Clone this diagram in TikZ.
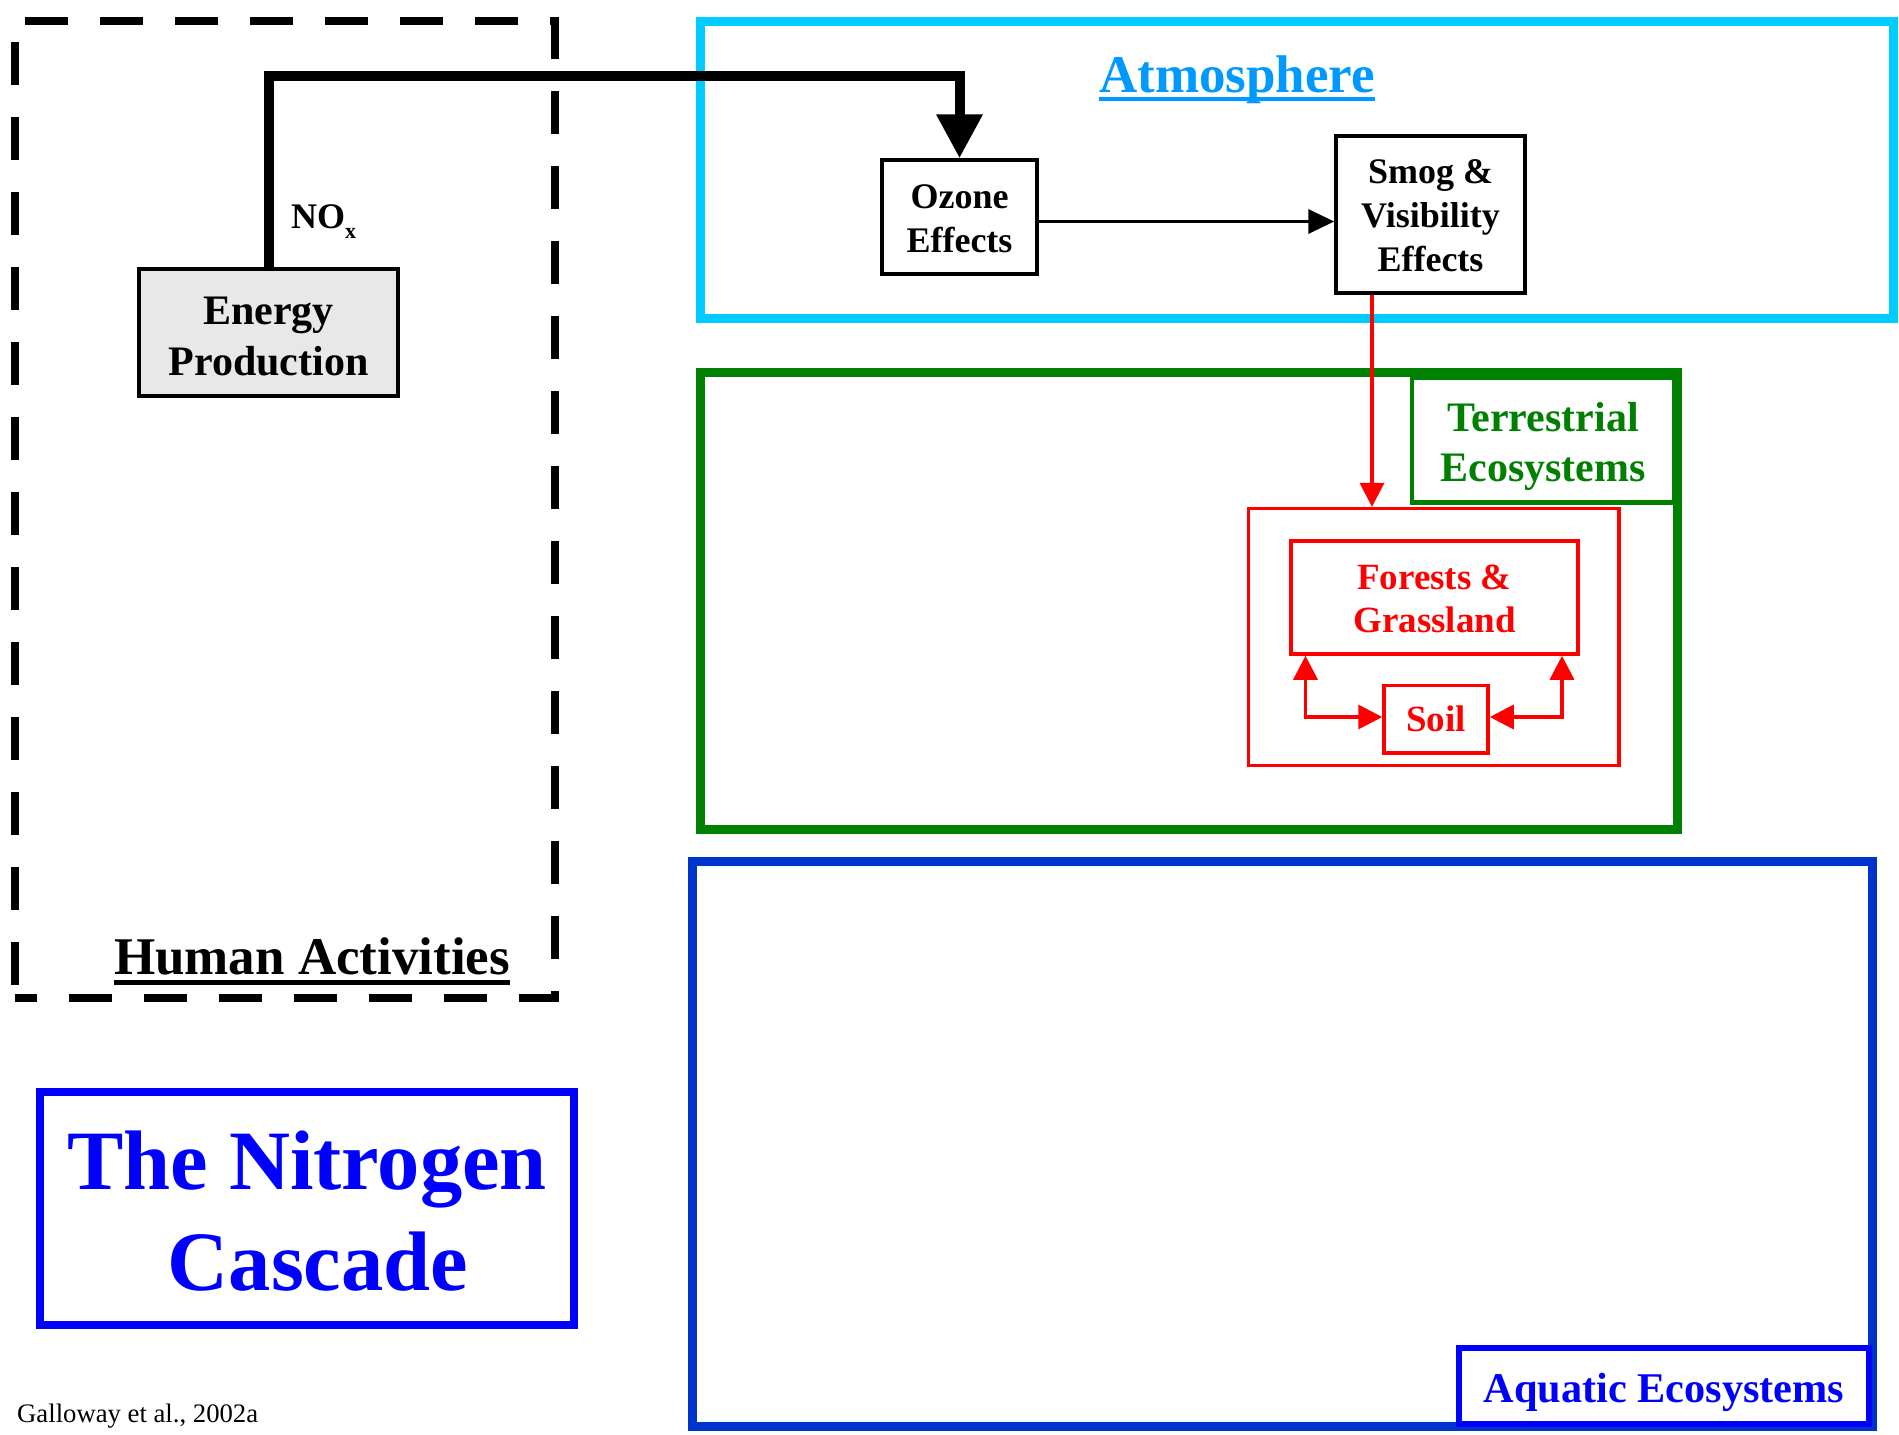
\documentclass[tikz,border=0pt]{standalone}
\usepackage{fontspec}
\setmainfont{Liberation Serif}
\usetikzlibrary{arrows.meta}
\definecolor{atmocyan}{RGB}{0,204,255}
\definecolor{atmotext}{RGB}{0,153,255}
\definecolor{terrgreen}{RGB}{0,128,0}
\definecolor{soilred}{RGB}{255,0,0}
\definecolor{aquablue}{RGB}{0,51,204}
\definecolor{titleblue}{RGB}{0,0,255}
\definecolor{egray}{RGB}{232,232,232}
% text block lowered by #1 inside its box, lines stacked with the font's baselineskip
\newcommand\boxtext[2]{\raisebox{-#1}[\height][\depth]{\begin{tabular}{@{}c@{}}#2\end{tabular}}}
\tikzset{
  every node/.style={inner sep=0pt},
  blackbox/.style={draw=black, line width=3.5pt, align=center},
  zone/.style={line width=9pt},
  lblbox/.style={align=center},
  redline/.style={draw=soilred, line width=3.5pt},
  redtip/.tip={Triangle[length=24pt,width=24pt]},
}
\begin{document}
\begin{tikzpicture}[x=1pt,y=-1pt]
\useasboundingbox[fill=white] (0,0) rectangle (1899,1435);

% Human activities dashed zone
\node[draw=black, line width=8pt, dash pattern=on 43pt off 32pt, dash phase=21pt,
      minimum width=540.2pt, minimum height=977.4pt] (human) at (284.6,509.3) {};
\node[anchor=base, font=\bfseries\fontsize{53}{64}\selectfont] (humanlbl) at (312,974) {Human Activities};
\draw[line width=5pt] ([yshift=-8pt]humanlbl.base west) -- ([yshift=-8pt]humanlbl.base east);

% Atmosphere zone
\node[draw=atmocyan, zone, minimum width=1193pt, minimum height=297pt] (atmos) at (1297,169.5) {};
\node[anchor=base, text=atmotext, font=\bfseries\fontsize{53}{64}\selectfont] (atmolbl) at (1237,92) {Atmosphere};
\draw[atmotext, line width=3.5pt] ([yshift=-7pt]atmolbl.base west) -- ([yshift=-7pt]atmolbl.base east);

% Terrestrial zone
\node[draw=terrgreen, zone, minimum width=977pt, minimum height=457.6pt] (terr) at (1188.5,600.8) {};
\node[draw=terrgreen, line width=4.5pt, lblbox, text=terrgreen, minimum width=262pt, minimum height=124.6pt,
      font=\bfseries\fontsize{42}{50}\selectfont] (terrlbl) at (1543,440.3) {\boxtext{5.8pt}{Terrestrial\\Ecosystems}};

% Aquatic zone
\node[draw=aquablue, zone, minimum width=1179.3pt, minimum height=565.7pt] (aqua) at (1282.35,1143.85) {};
\node[draw=titleblue, line width=6pt, lblbox, text=titleblue, minimum width=410pt, minimum height=76pt,
      font=\bfseries\fontsize{42.3}{50}\selectfont] (aqualbl) at (1664,1386) {\boxtext{6.2pt}{Aquatic Ecosystems}};

% Title
\node[draw=titleblue, line width=7.5pt, lblbox, text=titleblue, minimum width=534pt, minimum height=233pt,
      font=\bfseries\fontsize{84.5}{101}\selectfont] (title) at (307,1208.5)
      {\boxtext{11pt}{The Nitrogen\\\hspace*{22pt}Cascade}};

% Citation
\node[anchor=base west, font=\fontsize{26.7}{32}\selectfont] (cite) at (17,1422) {Galloway et al., 2002a};

% Black boxes
\node[blackbox, fill=egray, minimum width=259pt, minimum height=127pt,
      font=\bfseries\fontsize{42}{51}\selectfont] (energy) at (268.5,332.5) {\boxtext{7.2pt}{Energy\\Production}};
\node[blackbox, fill=white, minimum width=155pt, minimum height=114pt,
      font=\bfseries\fontsize{36}{44}\selectfont] (ozone) at (959.5,217) {\boxtext{4.3pt}{Ozone\\Effects}};
\node[blackbox, fill=white, minimum width=189pt, minimum height=157pt,
      font=\bfseries\fontsize{36}{44}\selectfont] (smog) at (1430.5,214.5) {\boxtext{4.5pt}{Smog \&\\Visibility\\Effects}};

\node[anchor=base west, font=\bfseries\fontsize{36}{36}\selectfont] (nox) at (291,228)
  {NO\raisebox{-10pt}{\fontsize{22}{22}\selectfont x}};

% Red boxes
\node[draw=soilred, line width=3.5pt, minimum width=370.4pt, minimum height=256.8pt] (forzone) at (1433.8,637) {};
\node[draw=soilred, line width=3.5pt, lblbox, text=soilred, minimum width=287pt, minimum height=113pt,
      font=\bfseries\fontsize{37}{43}\selectfont] (forests) at (1434.5,597.5) {\boxtext{5pt}{Forests \&\\Grassland}};
\node[draw=soilred, line width=3.5pt, lblbox, text=soilred, minimum width=104pt, minimum height=67.5pt,
      font=\bfseries\fontsize{37}{43}\selectfont] (soil) at (1436,719) {\boxtext{4pt}{Soil}};

% Connectors
\coordinate (bend) at (0,76);
\draw[line width=10pt, -{Triangle[length=44pt,width=44pt]}]
  (energy.north) -- (energy.north |- bend) -- (ozone.north |- bend) -- (ozone.north);
\draw[line width=3.5pt, -{Triangle[length=26pt,width=24pt]}]
  ([yshift=-4.5pt]ozone.east) -- ([yshift=-4.5pt]ozone.east -| smog.west);

\coordinate (rx) at (1372,0);
\draw[redline, -{redtip}] (smog.south -| rx) -- (forzone.north -| rx);

\coordinate (lx) at (1305.5,0);
\coordinate (rx2) at (1562,0);
\draw[redline, {redtip}-{redtip}] (forests.south -| lx) |- ([yshift=2pt]soil.west);
\draw[redline, {redtip}-{redtip}] (forests.south -| rx2) |- ([yshift=2pt]soil.east);

\end{tikzpicture}
\end{document}
